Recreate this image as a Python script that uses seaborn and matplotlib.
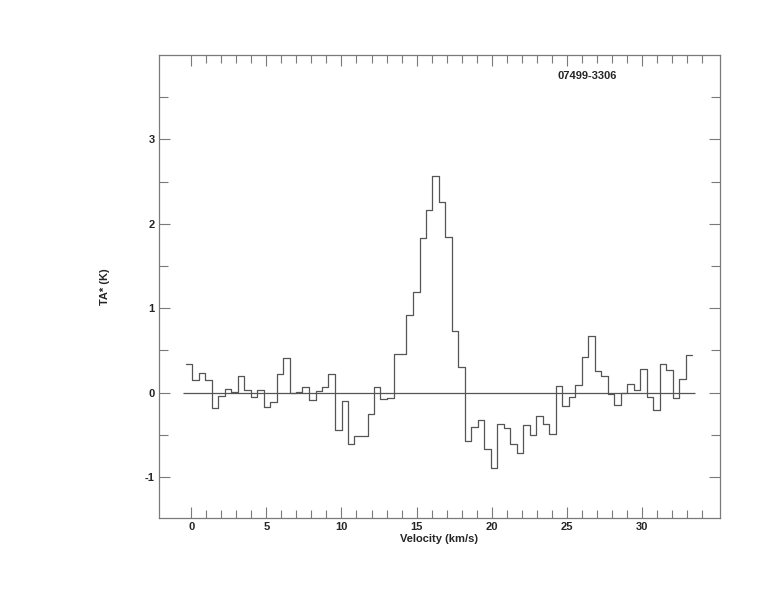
import numpy as np
import pandas as pd
import matplotlib
matplotlib.use("Agg")
import matplotlib.pyplot as plt
import seaborn as sns

# --- Spectre 07499-3306 : vitesse (centre des canaux, km/s) et TA* (K) ---
source_name = "07499-3306"
channel_width = 0.4324

velocity = [
    -0.16, 0.27, 0.71, 1.14, 1.57, 2.00, 2.44, 2.87, 3.30, 3.73,
    4.17, 4.60, 5.03, 5.46, 5.89, 6.33, 6.76, 7.19, 7.62, 8.06,
    8.49, 8.92, 9.35, 9.79, 10.22, 10.65, 11.08, 11.52, 11.95, 12.38,
    12.81, 13.25, 13.68, 14.11, 14.54, 14.98, 15.41, 15.84, 16.27, 16.70,
    17.14, 17.57, 18.00, 18.43, 18.87, 19.30, 19.73, 20.16, 20.60, 21.03,
    21.46, 21.89, 22.33, 22.76, 23.19, 23.62, 24.06, 24.49, 24.92, 25.35,
    25.78, 26.22, 26.65, 27.08, 27.51, 27.95, 28.38, 28.81, 29.24, 29.68,
    30.11, 30.54, 30.97, 31.41, 31.84, 32.27, 32.70, 33.14,
]

ta_star = [
    0.34, 0.154, 0.233, 0.154, -0.178, -0.04, 0.043, 0.012, 0.20, 0.03,
    -0.047, 0.03, -0.17, -0.107, 0.225, 0.415, -0.005, 0.008, 0.067, -0.087,
    0.02, 0.062, 0.225, -0.446, -0.095, -0.605, -0.51, -0.51, -0.25, 0.071,
    -0.079, -0.059, 0.462, 0.462, 0.924, 1.197, 1.837, 2.168, 2.571, 2.263,
    1.848, 0.735, 0.306, -0.569, -0.407, -0.324, -0.664, -0.893, -0.372, -0.419,
    -0.609, -0.715, -0.383, -0.502, -0.277, -0.372, -0.49, 0.079, -0.158, -0.051,
    0.095, 0.423, 0.671, 0.257, 0.198, -0.012, -0.146, 0.0, 0.103, 0.032,
    0.281, -0.051, -0.205, 0.34, 0.269, -0.063, 0.162, 0.443,
]

x_major = [0, 5, 10, 15, 20, 25, 30]
x_minor = [v for v in range(0, 35) if v % 5 != 0]
y_major = [-1, 0, 1, 2, 3]
y_minor = [-0.5, 0.5, 1.5, 2.5, 3.5]

# --- Style ---
sns.set_style("ticks")
plt.rcParams["font.family"] = ["Liberation Sans", "DejaVu Sans"]
plt.rcParams["font.weight"] = "bold"

line_col = "#555555"
frame_col = "#7a7a7a"

# Les bords extérieurs du premier et du dernier canal prolongent l'histogramme
df = pd.DataFrame({"v": velocity, "ta": ta_star})
pad = pd.DataFrame({
    "v": [velocity[0] - channel_width / 2, velocity[-1] + channel_width / 2],
    "ta": [ta_star[0], ta_star[-1]],
})
df_plot = pd.concat([pad.iloc[[0]], df, pad.iloc[[1]]], ignore_index=True)

fig = plt.figure(figsize=(7.74, 6.12), dpi=100)
ax = fig.add_axes([0.2054, 0.1536, 0.7248, 0.7565])

sns.lineplot(data=df_plot, x="v", y="ta", ax=ax, drawstyle="steps-mid",
             color=line_col, linewidth=0.9, sort=False)
ax.hlines(0, -0.57, 33.55, color=line_col, linewidth=0.9)

ax.set_xlim(-2.15, 35.2)
ax.set_ylim(-1.485, 4.0)

ax.set_xticks(x_major)
ax.set_xticks(x_minor, minor=True)
ax.set_yticks(y_major)
ax.set_yticks(y_minor, minor=True)
ax.set_xticklabels([str(v) for v in x_major], fontsize=8, fontweight="bold")
ax.set_yticklabels([str(v) for v in y_major], fontsize=8, fontweight="bold")

ax.tick_params(which="both", direction="in", top=True, right=True,
               color=frame_col, width=0.8, pad=3)
ax.tick_params(axis="x", which="major", length=8)
ax.tick_params(axis="x", which="minor", length=5.5)
ax.tick_params(axis="y", which="major", length=8)
ax.tick_params(axis="y", which="minor", length=6.5)

for side in ax.spines.values():
    side.set_visible(True)
    side.set_color(frame_col)
    side.set_linewidth(0.9)

ax.set_xlabel("Velocity (km/s)", fontsize=8, fontweight="bold", labelpad=1)
ax.set_ylabel("TA* (K)", fontsize=8, fontweight="bold")
ax.yaxis.set_label_coords(-0.088, 0.5)

ax.text(0.763, 0.955, source_name, transform=ax.transAxes, ha="center",
        va="center", fontsize=8, fontweight="bold")

fig.savefig("out.png", dpi=100)
